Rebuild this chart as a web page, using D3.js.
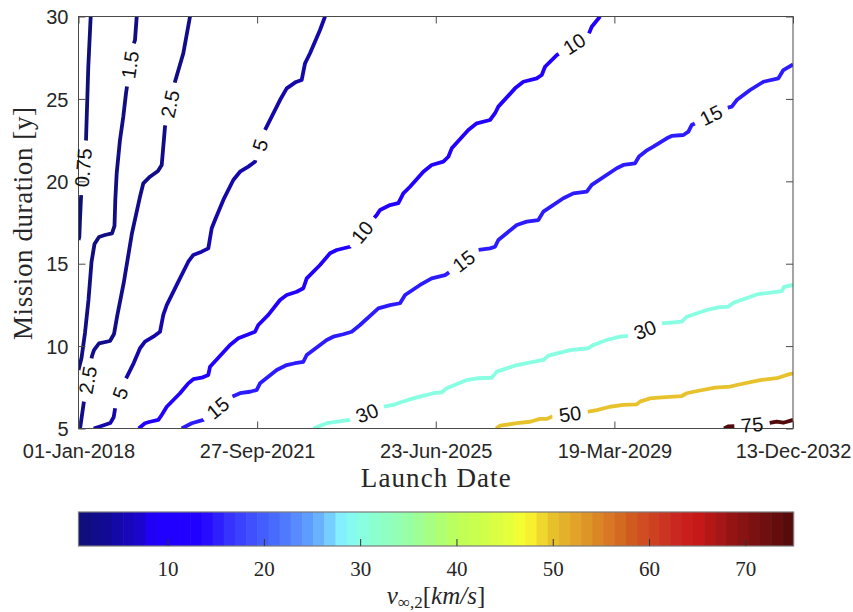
<!DOCTYPE html>
<html><head><meta charset="utf-8">
<script src="https://cdn.jsdelivr.net/npm/d3@7"></script>
<style>body{margin:0;background:#fff;} svg{display:block;}</style>
</head><body>
<svg id="chart" width="853" height="612"></svg>
<script>
// ---------- data ----------
const levels = [0.75, 1.5, 2.5, 5, 10, 15, 30, 50, 75];
// contour lines: [launch year (decimal), mission duration (years)]
const c0_75 = [[2018.255,30],[2018.205,26.95],[2018.157,22.51],[2018.094,20.69],[2018.052,18.99],[2018.031,17.65],[2018.017,16.62],[2018.0,16.44]];
const c1_5 = [[2019.218,30],[2019.182,28.57],[2019.134,28.17],[2018.994,25.34],[2018.937,23.92],[2018.868,22.51],[2018.833,21.49],[2018.799,20.49],[2018.770,18.87],[2018.753,17.29],[2018.701,16.84],[2018.554,16.74],[2018.429,16.62],[2018.335,16.20],[2018.272,15.10],[2018.209,12.80],[2018.136,10.80],[2018.063,9.28],[2018.0,8.55]];
const c2_5 = [[2020.333,30],[2020.193,27.77],[2020.019,26.04],[2019.810,23.31],[2019.774,22.10],[2019.741,20.99],[2019.663,20.63],[2019.496,20.28],[2019.356,19.88],[2019.287,19.07],[2019.119,16.86],[2018.946,13.83],[2018.806,11.77],[2018.743,10.73],[2018.659,10.31],[2018.429,10.16],[2018.324,9.76],[2018.282,9.40],[2018.109,6.55],[2018.038,5.11],[2018.031,5]];
const c5 = [[2023.158,30],[2023.053,29.18],[2022.844,27.77],[2022.739,27.16],[2022.670,26.15],[2022.551,26.03],[2022.356,25.64],[2022.216,24.93],[2021.902,23.11],[2021.693,21.19],[2021.553,20.89],[2021.379,20.58],[2021.239,20.08],[2021.030,18.87],[2020.856,17.65],[2020.787,17.15],[2020.716,15.93],[2020.578,15.73],[2020.402,15.53],[2020.297,15.12],[2020.055,13.71],[2019.846,12.49],[2019.774,11.89],[2019.705,10.87],[2019.565,10.57],[2019.391,10.27],[2019.287,9.87],[2019.155,8.97],[2018.979,7.94],[2018.770,6.30],[2018.737,5.70],[2018.665,5.33],[2018.450,5.12],[2018.318,5]];
const c10 = [[2028.912,30],[2028.738,29.38],[2028.667,28.88],[2028.006,27.66],[2027.761,26.95],[2027.692,26.45],[2027.587,26.25],[2027.307,26.04],[2027.133,25.64],[2026.784,24.53],[2026.715,24.13],[2026.610,23.72],[2026.332,23.52],[2026.156,23.11],[2025.809,22.00],[2025.738,21.49],[2025.633,21.19],[2025.390,20.99],[2025.215,20.58],[2024.936,19.67],[2024.796,19.27],[2024.692,18.67],[2024.518,18.56],[2024.309,18.26],[2024.240,17.96],[2023.681,16.03],[2023.403,15.83],[2023.262,15.63],[2023.053,14.92],[2022.775,14.11],[2022.704,13.51],[2022.566,13.30],[2022.356,13.10],[2022.216,12.80],[2021.971,11.89],[2021.762,11.28],[2021.693,10.87],[2021.519,10.67],[2021.344,10.47],[2021.170,10.07],[2020.752,8.75],[2020.716,8.25],[2020.578,8.08],[2020.402,7.99],[2020.297,7.74],[2020.124,7.14],[2019.846,6.32],[2019.741,5.82],[2019.670,5.52],[2019.496,5.41],[2019.391,5.32],[2019.260,5]];
const c15 = [[2032.95,27.09],[2032.747,26.75],[2032.643,26.25],[2032.329,26.04],[2032.051,25.54],[2031.772,24.93],[2031.668,24.53],[2031.527,24.43],[2030.900,23.52],[2030.831,23.42],[2030.760,23.01],[2030.655,22.81],[2030.412,22.75],[2030.308,22.61],[2030.027,22.10],[2029.874,21.84],[2029.728,21.50],[2029.644,21.09],[2029.399,20.99],[2029.261,20.79],[2028.738,19.78],[2028.634,19.37],[2028.353,19.27],[2028.144,18.97],[2027.726,18.16],[2027.621,17.65],[2027.378,17.55],[2027.169,17.35],[2026.784,16.44],[2026.715,16.03],[2026.610,15.93],[2026.365,15.83],[2025.773,14.51],[2025.669,14.31],[2025.390,14.11],[2025.146,13.71],[2024.832,13.10],[2024.727,12.60],[2024.518,12.49],[2024.273,12.29],[2023.890,11.28],[2023.716,10.87],[2023.541,10.72],[2023.331,10.57],[2023.193,10.37],[2022.775,9.46],[2022.704,9.05],[2022.530,8.96],[2022.356,8.85],[2022.147,8.55],[2021.798,7.74],[2021.729,7.34],[2021.588,7.23],[2021.379,7.14],[2021.206,6.93],[2020.611,5.52],[2020.369,5.32],[2020.159,5]];
const c30 = [[2022.913,5],[2023.193,5.32],[2023.681,5.52],[2024.378,6.32],[2024.587,6.43],[2024.727,6.58],[2025.005,6.83],[2025.424,7.14],[2025.600,7.20],[2025.704,7.44],[2026.123,7.94],[2026.365,8.05],[2026.646,8.08],[2026.751,8.45],[2027.169,8.85],[2027.726,9.16],[2027.830,9.42],[2028.284,9.76],[2028.667,9.87],[2028.772,10.07],[2029.052,10.37],[2029.330,10.57],[2029.540,10.63],[2030.203,11.38],[2030.621,11.48],[2030.726,11.78],[2031.144,12.19],[2031.387,12.35],[2031.596,12.39],[2031.701,12.63],[2032.224,13.16],[2032.469,13.24],[2032.714,13.34],[2032.762,13.60],[2032.95,13.71]];
const c50 = [[2026.736,5],[2026.819,5.17],[2027.169,5.32],[2027.447,5.41],[2027.657,5.58],[2027.797,5.58],[2027.901,5.72],[2028.667,6.02],[2028.843,6.12],[2029.121,6.32],[2029.399,6.43],[2029.680,6.47],[2029.749,6.63],[2029.958,6.83],[2030.203,6.89],[2030.621,6.97],[2030.726,7.14],[2030.864,7.23],[2031.318,7.48],[2031.632,7.54],[2031.772,7.64],[2032.260,7.94],[2032.609,8.05],[2032.818,8.25],[2032.95,8.35]];
const c75 = [[2031.506,5],[2031.590,5.12],[2031.779,5.15],[2032.427,5.32],[2032.609,5.41],[2032.747,5.35],[2032.95,5.52]];
const contourLines = [c0_75, c1_5, c2_5, c5, c10, c15, c30, c50, c75];
// inline labels: [level, year, duration]
const labelSpots = [[0.75,2018.136,20.81],[1.5,2019.099,27.06],[2.5,2019.915,24.69],[2.5,2018.199,7.94],[5,2021.798,22.20],[5,2018.868,7.15],[10,2028.347,28.45],[10,2023.932,16.92],[15,2031.214,24.14],[15,2026.045,15.22],[15,2020.919,6.24],[30,2029.853,10.98],[30,2024.037,5.94],[50,2028.284,5.88],[75,2032.092,5.21]];
const xTickLabels = ["01-Jan-2018","27-Sep-2021","23-Jun-2025","19-Mar-2029","13-Dec-2032"];
const yTicks = [5,10,15,20,25,30];
const cbarRange = [0.75, 75];
const cbarTicks = [10,20,30,40,50,60,70];
const cmapPos = [0, 0.04, 0.085, 0.105, 0.17, 0.215, 0.28, 0.33, 0.37, 0.395, 0.46, 0.53, 0.60, 0.625, 0.66, 0.72, 0.78, 0.84, 0.865, 0.92, 1];
const cmapCol = ["#0f0f78","#120a96","#1b05cc","#2200ff","#2200ff","#3838ff","#4a70ff","#64a6ff","#86f4ff","#88ffe2","#96ffa6","#bcff58","#e2ff3c","#fcfc30","#e8c52c","#dc8c26","#d05420","#c82420","#c81818","#8e1414","#520a0a"];

// ---------- layout ----------
const L = 78.5, R = 793, T = 16.5, B = 428.5;
const CB = {x0: 78.5, x1: 793.5, y0: 512, y1: 546};
const sans = "'Liberation Sans', Arial, Helvetica, sans-serif";
const serif = "'Liberation Serif', 'Times New Roman', serif";
const ink = "#262626";

const svg = d3.select("#chart");
const parseD = d3.timeParse("%d-%b-%Y");
const xTickDates = xTickLabels.map(parseD);
const t0 = xTickDates[0].getTime();
const yearToDate = yr => new Date(t0 + (yr - 2018) * 365.25 * 864e5);
const x = d3.scaleTime().domain([xTickDates[0], xTickDates[xTickDates.length - 1]]).range([L, R]);
const y = d3.scaleLinear().domain([5, 30]).range([B, T]);
const cmap = d3.scaleLinear().domain(cmapPos).range(cmapCol).interpolate(d3.interpolateRgb).clamp(true);
const vt = v => (v - cbarRange[0]) / (cbarRange[1] - cbarRange[0]);

svg.append("defs").append("clipPath").attr("id", "clip")
  .append("rect").attr("x", L).attr("y", T).attr("width", R - L).attr("height", B - T);

// ---------- helpers ----------
function cumLen(px) { const c = [0]; for (let k = 1; k < px.length; k++) c.push(c[k-1] + Math.hypot(px[k][0]-px[k-1][0], px[k][1]-px[k-1][1])); return c; }
function pointAt(px, cum, s) {
  s = Math.max(0, Math.min(cum[cum.length-1], s));
  let k = 1; while (k < cum.length - 1 && cum[k] < s) k++;
  const seg = cum[k] - cum[k-1]; const f = seg > 0 ? (s - cum[k-1]) / seg : 0;
  return [px[k-1][0] + f*(px[k][0]-px[k-1][0]), px[k-1][1] + f*(px[k][1]-px[k-1][1])];
}
function slicePts(px, cum, a, b) {
  const out = [pointAt(px, cum, a)];
  for (let k = 0; k < px.length; k++) if (cum[k] > a && cum[k] < b) out.push(px[k]);
  out.push(pointAt(px, cum, b)); return out;
}
function project(px, cum, p) {
  let best = {d: Infinity, s: 0};
  for (let k = 1; k < px.length; k++) {
    const ax = px[k-1][0], ay = px[k-1][1], dx = px[k][0]-ax, dy = px[k][1]-ay;
    const L2 = dx*dx + dy*dy;
    let f = L2 > 0 ? ((p[0]-ax)*dx + (p[1]-ay)*dy) / L2 : 0; f = Math.max(0, Math.min(1, f));
    const d = Math.hypot(p[0]-(ax+f*dx), p[1]-(ay+f*dy));
    if (d < best.d) best = {d, s: cum[k-1] + f*Math.sqrt(L2)};
  }
  return best.s;
}
const meas = svg.append("text").attr("font-family", sans).attr("font-size", 20).attr("opacity", 0);
const textW = s => { meas.text(s); return meas.node().getComputedTextLength(); };

// ---------- contour lines ----------
const lineGen = d3.line();
const gLines = svg.append("g").attr("clip-path", "url(#clip)");
const labelsOut = [];
contourLines.forEach((pts, i) => {
  const lev = levels[i];
  const px = pts.map(d => [x(yearToDate(d[0])), y(d[1])]);
  const cum = cumLen(px), total = cum[cum.length-1];
  const gaps = [];
  labelSpots.filter(l => l[0] === lev).forEach(l => {
    const s0 = project(px, cum, [x(yearToDate(l[1])), y(l[2])]);
    const a = pointAt(px, cum, s0 - 12), b = pointAt(px, cum, s0 + 12);
    let ang = Math.atan2(b[1]-a[1], b[0]-a[0]) * 180 / Math.PI;
    if (ang > 90) ang -= 180; if (ang < -90) ang += 180;
    const txt = String(lev);
    const w = Math.max(textW(txt), 16) + 13 + 3*Math.abs(Math.sin(ang*Math.PI/180));
    gaps.push([s0 - w/2, s0 + w/2]);
    labelsOut.push({p: pointAt(px, cum, s0), ang, txt});
  });
  gaps.sort((m, n) => m[0] - n[0]);
  const pieces = []; let s = 0;
  gaps.forEach(gp => { if (gp[0] > s) pieces.push(slicePts(px, cum, s, gp[0])); s = Math.max(s, gp[1]); });
  if (s < total) pieces.push(slicePts(px, cum, s, total));
  gLines.selectAll(null).data(pieces).join("path")
    .attr("d", lineGen).attr("fill", "none")
    .attr("stroke", cmap(vt(lev))).attr("stroke-width", 3.8)
    .attr("stroke-linejoin", "round").attr("stroke-linecap", "butt");
});

// ---------- axes ----------
const fmtX = (d, i) => xTickLabels[i];
const axB = svg.append("g").attr("transform", `translate(0,${B})`)
  .call(d3.axisBottom(x).tickValues(xTickDates).tickFormat(fmtX).tickSizeInner(-7).tickSizeOuter(0).tickPadding(15.5));
const axT = svg.append("g").attr("transform", `translate(0,${T})`)
  .call(d3.axisTop(x).tickValues(xTickDates).tickFormat("").tickSizeInner(-7).tickSizeOuter(0));
const axL = svg.append("g").attr("transform", `translate(${L},0)`)
  .call(d3.axisLeft(y).tickValues(yTicks).tickSizeInner(-7).tickSizeOuter(0).tickPadding(10));
const axR = svg.append("g").attr("transform", `translate(${R},0)`)
  .call(d3.axisRight(y).tickValues(yTicks).tickFormat("").tickSizeInner(-7).tickSizeOuter(0));
[axB, axT, axL, axR].forEach(a => {
  a.select(".domain").remove();
  a.selectAll(".tick line").attr("stroke", "#4a4a4a").attr("stroke-width", 1);
  a.selectAll("text").attr("font-family", sans).attr("font-size", 20).attr("fill", ink);
});
axL.selectAll("text").attr("dy", "0.36em");
svg.append("rect").attr("x", L).attr("y", T).attr("width", R - L).attr("height", B - T)
  .attr("fill", "none").attr("stroke", "#4a4a4a").attr("stroke-width", 1);

// ---------- contour labels ----------
svg.append("g").selectAll("text").data(labelsOut).join("text")
  .attr("transform", d => `translate(${d.p[0]},${d.p[1]}) rotate(${d.ang})`)
  .attr("text-anchor", "middle").attr("dy", "0.35em")
  .attr("font-family", sans).attr("font-size", 20).attr("fill", "#111")
  .text(d => d.txt);

// ---------- axis titles ----------
svg.append("text").attr("x", (L + R) / 2).attr("y", 487)
  .attr("text-anchor", "middle").attr("font-family", serif).attr("font-size", 27).attr("fill", ink)
  .attr("textLength", 150).attr("lengthAdjust", "spacing").text("Launch Date");
svg.append("text").attr("transform", `translate(32,${(T + B) / 2 + 1}) rotate(-90)`)
  .attr("text-anchor", "middle").attr("font-family", serif).attr("font-size", 27).attr("fill", ink)
  .attr("textLength", 233).attr("lengthAdjust", "spacing").text("Mission duration [y]");

// ---------- colorbar ----------
const cbx = d3.scaleLinear().domain(cbarRange).range([CB.x0, CB.x1]);
const nBands = 64;
const bands = d3.range(nBands);
const bw = (CB.x1 - CB.x0) / nBands;
svg.append("g").selectAll("rect").data(bands).join("rect")
  .attr("x", i => CB.x0 + i * bw).attr("y", CB.y0).attr("width", bw + 0.6).attr("height", CB.y1 - CB.y0)
  .attr("fill", i => cmap((i + 0.5) / nBands));
svg.append("rect").attr("x", CB.x0).attr("y", CB.y0).attr("width", CB.x1 - CB.x0).attr("height", CB.y1 - CB.y0)
  .attr("fill", "none").attr("stroke", "#7a7a7a").attr("stroke-width", 1.2);
const axC = svg.append("g").attr("transform", `translate(0,${CB.y1})`)
  .call(d3.axisBottom(cbx).tickValues(cbarTicks).tickSizeInner(-7).tickSizeOuter(0).tickPadding(15));
axC.select(".domain").remove();
axC.selectAll(".tick line").attr("stroke", "#333").attr("stroke-width", 1);
axC.selectAll("text").attr("font-family", serif).attr("font-size", 21).attr("fill", ink);

const cl = svg.append("text").attr("x", (CB.x0 + CB.x1) / 2).attr("y", 604)
  .attr("text-anchor", "middle").attr("font-family", serif).attr("font-size", 25).attr("fill", ink);
cl.append("tspan").attr("font-style", "italic").text("v");
cl.append("tspan").attr("font-size", 17).attr("dy", 4).text("∞,2");
cl.append("tspan").attr("dy", -4).text("[");
cl.append("tspan").attr("font-style", "italic").text("km/s");
cl.append("tspan").text("]");
meas.remove();
</script>
</body></html>
